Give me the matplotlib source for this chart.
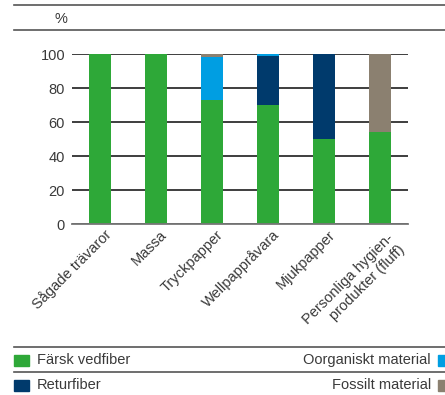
import numpy as np
import matplotlib.pyplot as plt
from matplotlib.lines import Line2D
from matplotlib.patches import Rectangle
import matplotlib.transforms as mtransforms

plt.rcParams['font.family'] = ['Liberation Sans', 'DejaVu Sans']

# Data (percent of material)
categories = ['Sågade trävaror', 'Massa', 'Tryckpapper', 'Wellpappråvara',
              'Mjukpapper', 'Personliga hygien-\nprodukter (fluff)']
farsk = [100, 100, 73, 70, 50, 54]
retur = [0, 0, 0, 29, 50, 0]
oorganiskt = [0, 0, 25, 1, 0, 0]
fossilt = [0, 0, 2, 0, 0, 46]

series = ['Färsk vedfiber', 'Returfiber', 'Oorganiskt material', 'Fossilt material']
colors = ['#2EA838', '#003A6C', '#009EE2', '#8B8070']
text_col = '#3a3a3a'

W, H = 445, 395
fig = plt.figure(figsize=(W / 100, H / 100), dpi=100)
ax = fig.add_axes([72 / W, 1 - 224 / H, 336 / W, 170 / H])

x = np.arange(len(categories))
bottom = np.zeros(len(categories))
for vals, c in zip([farsk, retur, oorganiskt, fossilt], colors):
    ax.bar(x, vals, width=0.41, bottom=bottom, color=c, zorder=3)
    bottom += np.array(vals)

ax.set_xlim(-0.5, 5.5)
ax.set_ylim(0, 100)
ax.set_yticks([0, 20, 40, 60, 80, 100])
ax.yaxis.grid(True, color='#1e1e1e', linewidth=1.2, zorder=0)
ax.tick_params(axis='y', length=0, pad=5, labelsize=10.5, labelcolor=text_col)
ax.tick_params(axis='x', length=0, pad=6, labelsize=10.5, labelcolor=text_col)
for s in ['top', 'right', 'left']:
    ax.spines[s].set_visible(False)
ax.spines['bottom'].set_color('#777777')
ax.spines['bottom'].set_linewidth(1.3)
ax.spines['bottom'].set_zorder(4)

ax.set_xticks(x)
ax.set_xticklabels(categories, rotation=45, ha='right', va='center',
                   rotation_mode='anchor', multialignment='right')
for i, lab in enumerate(ax.get_xticklabels()):
    dx, dy = 9, 0
    if i == len(categories) - 1:
        dx, dy = 17, -9
    off = mtransforms.ScaledTranslation(dx / 100, dy / 100, fig.dpi_scale_trans)
    lab.set_transform(lab.get_transform() + off)

# header lines and unit
line_kw = dict(color='#555555', linewidth=1.2, transform=fig.transFigure)
for yp in [5, 30, 347, 372]:
    fig.add_artist(Line2D([14 / W, 1], [1 - yp / H, 1 - yp / H], **line_kw))
fig.text(61 / W, 1 - 19 / H, '%', ha='center', va='center', fontsize=10.5, color=text_col)

# legend
legend_rows = [(360, 'Färsk vedfiber', colors[0], 'Oorganiskt material', colors[2]),
               (385, 'Returfiber', colors[1], 'Fossilt material', colors[3])]
for yp, ltxt, lcol, rtxt, rcol in legend_rows:
    fig.add_artist(Rectangle((14 / W, 1 - (yp + 6) / H), 15 / W, 11 / H,
                             color=lcol, transform=fig.transFigure))
    fig.text(37 / W, 1 - yp / H, ltxt, ha='left', va='center', fontsize=10.5, color=text_col)
    fig.add_artist(Rectangle((438 / W, 1 - (yp + 6) / H), 10 / W, 11 / H,
                             color=rcol, transform=fig.transFigure))
    fig.text(431 / W, 1 - yp / H, rtxt, ha='right', va='center', fontsize=10.5, color=text_col)

fig.savefig('out.png', dpi=100)
